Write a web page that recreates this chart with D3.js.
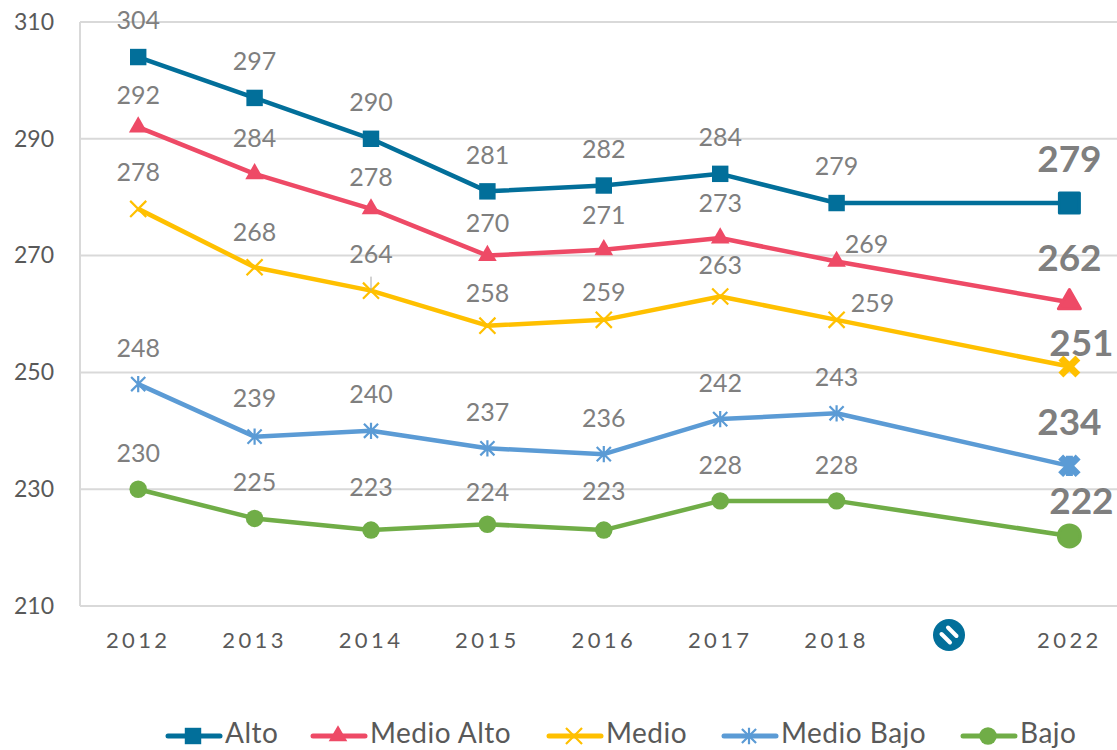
<!DOCTYPE html>
<html>
<head>
<meta charset="utf-8">
<script src="https://cdn.jsdelivr.net/npm/d3@7"></script>
<style>
  html, body { margin: 0; padding: 0; background: #fff; overflow: hidden; }
  text { font-family: Lato, "Open Sans", sans-serif; }
</style>
</head>
<body>
<div id="chart"></div>
<script>
const years = ["2012", "2013", "2014", "2015", "2016", "2017", "2018", "2020", "2022"];
const yTicks = [210, 230, 250, 270, 290, 310];

// null = no measurement that year
const alto = [304, 297, 290, 281, 282, 284, 279, null, 279];
const medioAlto = [292, 284, 278, 270, 271, 273, 269, null, 262];
const medio = [278, 268, 264, 258, 259, 263, 259, null, 251];
const medioBajo = [248, 239, 240, 237, 236, 242, 243, null, 234];
const bajo = [230, 225, 223, 224, 223, 228, 228, null, 222];

const w = 1117;
const h = 750;

const x = d3.scaleBand().domain(years).range([80, 1127.6]);
const y = d3.scaleLinear().domain([210, 310]).range([606, 22]);
const cx = (yr) => x(yr) + x.bandwidth() / 2;

// d3's asterisk has no x shape in it, this one is an x with a vertical bar
const symbolStar = {
  draw(context, size) {
    const r = Math.sqrt(size) * 0.62;
    const v = r * 1.15;
    context.moveTo(-r, -r);
    context.lineTo(r, r);
    context.moveTo(-r, r);
    context.lineTo(r, -r);
    context.moveTo(0, -v);
    context.lineTo(0, v);
  }
};

// each series with its marker and hand placed label offsets (the chart's labels were nudged by hand)
const series = [
  { name: "Alto", values: alto, color: "#026f9a", symbol: d3.symbolSquare, filled: true, size: 270, lastSize: 400,
    dx: [0, 0, 0, 0, 0, 0, 0, 0, 0], dy: [-37, -37, -37, -36, -36, -37, -37, 0, -44] },
  { name: "Medio Alto", values: medioAlto, color: "#ee4a66", symbol: d3.symbolTriangle, filled: true, size: 150, lastSize: 210,
    dx: [0, 0, 0, 0, 0, 0, 30, 0, 0], dy: [-32, -36, -32, -32, -35, -35, -17, 0, -44] },
  { name: "Medio", values: medio, color: "#ffc000", symbol: d3.symbolTimes, filled: false, size: 170, lastSize: 190,
    dx: [0, 0, 0, 0, 0, 0, 36, 0, 12], dy: [-37, -35, -36, -32, -28, -31, -17, 0, -24] },
  { name: "Medio Bajo", values: medioBajo, color: "#5b9bd5", symbol: symbolStar, filled: false, size: 130, lastSize: 200,
    dx: [0, 0, 0, 0, 0, 0, 0, 0, 0], dy: [-36, -38, -37, -36, -36, -36, -36, 0, -44] },
  { name: "Bajo", values: bajo, color: "#70ad47", symbol: d3.symbolCircle, filled: true, size: 240, lastSize: 380,
    dx: [0, 0, 0, 0, 0, 0, 0, 0, 12], dy: [-36, -36, -43, -32, -39, -36, -36, 0, -35] }
];

const legendX = [166, 311, 547, 722, 961];

const svg = d3.select("#chart")
  .append("svg")
  .attr("width", w)
  .attr("height", h)
  .style("display", "block");

// grid
svg.append("g")
  .selectAll("line")
  .data(yTicks)
  .enter()
  .append("line")
  .attr("x1", 80)
  .attr("x2", w)
  .attr("y1", (d) => y(d))
  .attr("y2", (d) => y(d))
  .attr("stroke", "#d9d9d9")
  .attr("stroke-width", 2);

svg.append("line")
  .attr("x1", 80)
  .attr("x2", 80)
  .attr("y1", y(310))
  .attr("y2", y(210))
  .attr("stroke", "#d9d9d9")
  .attr("stroke-width", 2);

// axes
const yAxis = svg.append("g")
  .attr("transform", "translate(54,0)")
  .call(d3.axisLeft(y).tickValues(yTicks).tickSize(0).tickPadding(0));
yAxis.select(".domain").remove();
yAxis.selectAll("text")
  .attr("fill", "#595959")
  .style("font-family", "Lato, sans-serif")
  .style("font-size", "23px");

const xAxis = svg.append("g")
  .attr("transform", "translate(0,606)")
  .call(d3.axisBottom(x).tickSize(0).tickPadding(26).tickFormat((d) => (d === "2020" ? "" : d)));
xAxis.select(".domain").remove();
xAxis.selectAll("text")
  .attr("fill", "#595959")
  .style("font-family", "Lato, sans-serif")
  .style("font-size", "22px")
  .style("letter-spacing", "3.4px");

// the no-data badge sits where the 2020 label would be, a bit left of centre
const badge = svg.append("g")
  .attr("transform", `translate(${cx("2020") - 4},635)`);
badge.append("circle")
  .attr("r", 16)
  .attr("fill", "#026f9a");
badge.append("line")
  .attr("x1", -1)
  .attr("y1", -7.5)
  .attr("x2", 7.5)
  .attr("y2", 1)
  .attr("stroke", "#fff")
  .attr("stroke-width", 4)
  .attr("stroke-linecap", "round");
badge.append("line")
  .attr("x1", -7.5)
  .attr("y1", -1)
  .attr("x2", 1)
  .attr("y2", 7.5)
  .attr("stroke", "#fff")
  .attr("stroke-width", 4)
  .attr("stroke-linecap", "round");

const line = d3.line()
  .x((d) => cx(d.year))
  .y((d) => y(d.value));

const marker = (sel, s, size, thick) => {
  sel.attr("d", d3.symbol().type(s.symbol).size(size)())
    .attr("fill", s.filled ? s.color : "none")
    .attr("stroke", s.color)
    .attr("stroke-width", s.filled ? (thick ? 3 : 0) : (thick ? 7 : 2.2))
    .attr("stroke-linejoin", "round");
};

series.forEach((s) => {
  const points = years
    .map((year, i) => ({ year: year, value: s.values[i], i: i }))
    .filter((d) => d.value !== null);
  const lastIndex = years.length - 1;

  svg.append("path")
    .datum(points)
    .attr("d", line)
    .attr("fill", "none")
    .attr("stroke", s.color)
    .attr("stroke-width", 4.5)
    .attr("stroke-linejoin", "round");

  svg.append("g")
    .selectAll("path")
    .data(points)
    .enter()
    .append("path")
    .attr("transform", (d) => `translate(${cx(d.year)},${y(d.value)})`)
    .each(function (d) {
      const last = d.i === lastIndex;
      marker(d3.select(this), s, last ? s.lastSize : s.size, last);
    });

  svg.append("g")
    .selectAll("text")
    .data(points)
    .enter()
    .append("text")
    .text((d) => d.value)
    .attr("x", (d) => cx(d.year) + s.dx[d.i])
    .attr("y", (d) => y(d.value) + s.dy[d.i])
    .attr("dy", "0.35em")
    .attr("text-anchor", "middle")
    .attr("fill", "#7f7f7f")
    .attr("font-weight", (d) => (d.i === lastIndex ? 700 : 400))
    .attr("font-size", (d) => (d.i === lastIndex ? 37 : 25));
});

// leader under the 264 label
svg.append("line")
  .attr("x1", cx("2014"))
  .attr("x2", cx("2014"))
  .attr("y1", y(264) - 14)
  .attr("y2", y(264))
  .attr("stroke", "#a6a6a6")
  .attr("stroke-width", 1);

// legend
const legend = svg.append("g")
  .selectAll("g")
  .data(series)
  .enter()
  .append("g")
  .attr("transform", (d, i) => `translate(${legendX[i]},736)`);

legend.append("line")
  .attr("x1", 2)
  .attr("x2", 54)
  .attr("stroke", (d) => d.color)
  .attr("stroke-width", 5)
  .attr("stroke-linecap", "round");

legend.append("path")
  .attr("transform", "translate(27,0)")
  .each(function (d) {
    marker(d3.select(this), d, d.size, false);
  });

// baseline kept up a little so the descenders stay inside the page
legend.append("text")
  .text((d) => d.name)
  .attr("x", 59)
  .attr("y", 7)
  .attr("fill", "#595959")
  .attr("font-size", 28)
  .style("letter-spacing", "0.5px");
</script>
</body>
</html>
